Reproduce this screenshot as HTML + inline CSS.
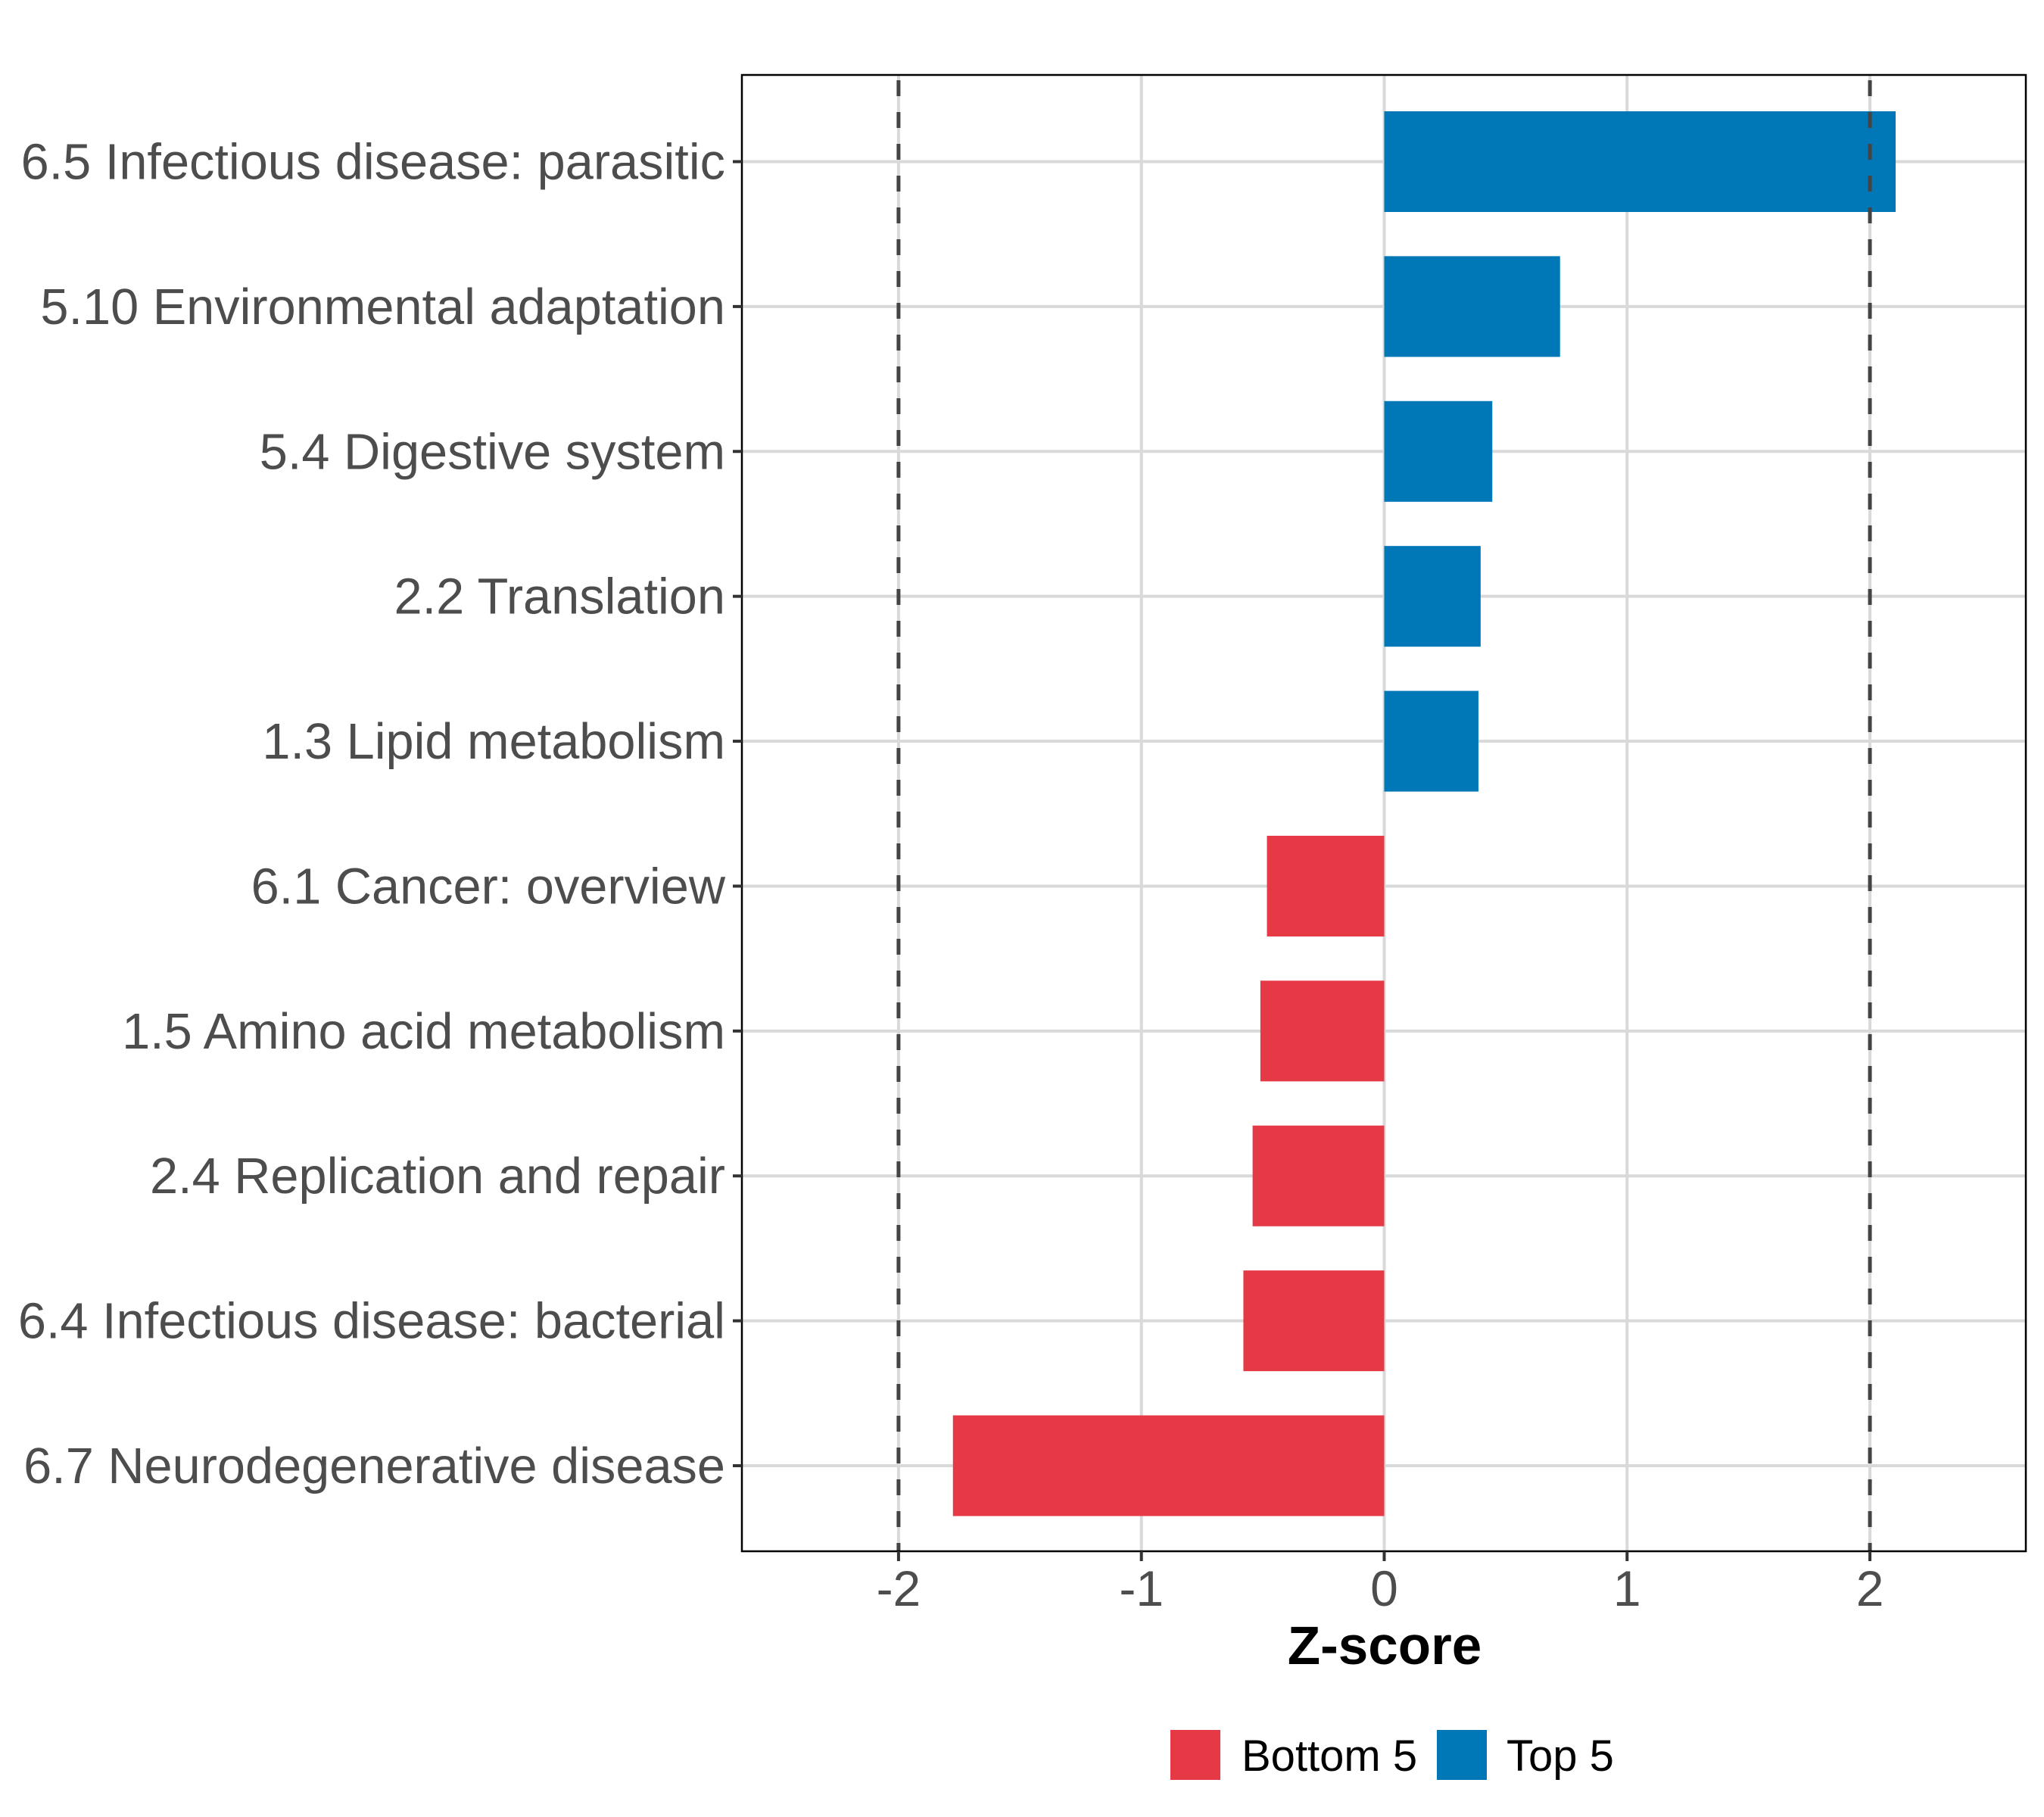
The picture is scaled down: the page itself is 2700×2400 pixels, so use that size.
<!DOCTYPE html>
<html><head><meta charset="utf-8"><style>
html,body{margin:0;padding:0;background:#fff;}
svg{display:block;font-family:"Liberation Sans",Arial,sans-serif;}
</style></head><body>
<svg id="chart" width="2700" height="2400" viewBox="0 0 2700 2400" xmlns="http://www.w3.org/2000/svg">
<rect width="2700" height="2400" fill="#fff"/>
<g id="grid"></g>
<g id="bars"></g>
<g id="refs"></g>
<rect x="980" y="99" width="1696" height="1950" fill="none" stroke="#000" stroke-width="2.5"/>
<g id="yaxis"></g>
<g id="xaxis"></g>
<text x="1829" y="2198" text-anchor="middle" font-size="71" font-weight="bold" fill="#000">Z-score</text>
<g>
<rect x="1546" y="2285" width="66" height="66" fill="#E63946"/>
<text x="1640" y="2339" font-size="58" fill="#000">Bottom 5</text>
<rect x="1898" y="2285" width="66" height="66" fill="#0077B6"/>
<text x="1990" y="2339" font-size="58" fill="#000">Top 5</text>
</g>
</svg>
<script>
const categories = ["6.5 Infectious disease: parasitic","5.10 Environmental adaptation","5.4 Digestive system","2.2 Translation","1.3 Lipid metabolism","6.1 Cancer: overview","1.5 Amino acid metabolism","2.4 Replication and repair","6.4 Infectious disease: bacterial","6.7 Neurodegenerative disease"];
const zscores = [2.106, 0.724, 0.445, 0.397, 0.388, -0.483, -0.510, -0.542, -0.580, -1.776];
const groups = ["Top 5","Top 5","Top 5","Top 5","Top 5","Bottom 5","Bottom 5","Bottom 5","Bottom 5","Bottom 5"];
const xTicks = [-2, -1, 0, 1, 2];
const xTickLabels = ["-2", "-1", "0", "1", "2"];
const refLines = [-2, 2];

const NS = "http://www.w3.org/2000/svg";
const L = 980, R = 2676, T = 99, B = 2049;
const xMin = -2.645, xMax = 2.642;
const x = v => L + (v - xMin) / (xMax - xMin) * (R - L);
const rowStep = (1936 - 213.5) / (categories.length - 1);
const y = i => 213.5 + i * rowStep;
const barH = rowStep * 0.695;
const colors = {"Top 5": "#0077B6", "Bottom 5": "#E63946"};
function mk(tag, attrs, parent) {
  const e = document.createElementNS(NS, tag);
  for (const k in attrs) e.setAttribute(k, attrs[k]);
  parent.appendChild(e);
  return e;
}
const grid = document.getElementById("grid");
const bars = document.getElementById("bars");
const refs = document.getElementById("refs");
const yaxis = document.getElementById("yaxis");
const xaxis = document.getElementById("xaxis");

xTicks.forEach((t, i) => {
  const g = mk("line", {x1: x(t), x2: x(t), y1: T, y2: B, stroke: "#d9d9d9", "stroke-width": 4}, grid);
  
  
  const tk = mk("line", {x1: x(t), x2: x(t), y1: B, y2: B + 13, stroke: "#333", "stroke-width": 4}, xaxis);
  
  
  const lb = mk("text", {x: x(t), y: 2121, "text-anchor": "middle", "font-size": 66, fill: "#4d4d4d"}, xaxis);
  lb.textContent = xTickLabels[i];
  
  
});
categories.forEach((c, i) => {
  const g = mk("line", {x1: L, x2: R, y1: y(i), y2: y(i), stroke: "#d9d9d9", "stroke-width": 4}, grid);
  
  
  const v = zscores[i];
  const b = mk("rect", {x: Math.min(x(0), x(v)), y: y(i) - barH / 2, width: Math.abs(x(v) - x(0)), height: barH, fill: colors[groups[i]]}, bars);
  
  
  const tk = mk("line", {x1: 968, x2: L, y1: y(i), y2: y(i), stroke: "#333", "stroke-width": 4}, yaxis);
  
  
  const lb = mk("text", {x: 958, y: y(i) + 23, "text-anchor": "end", "font-size": 66.7, fill: "#4d4d4d"}, yaxis);
  lb.textContent = c;
  
  
});
refLines.forEach(r => {
  const l = mk("line", {x1: x(r), x2: x(r), y1: T, y2: B, stroke: "#444", "stroke-width": 5, "stroke-dasharray": "21 21", "stroke-dashoffset": "-7"}, refs);
  
  
});
</script>
</body></html>
